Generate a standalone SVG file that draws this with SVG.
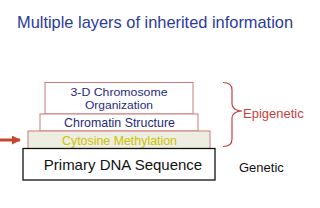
<svg xmlns="http://www.w3.org/2000/svg" width="320" height="208" viewBox="0 0 320 208">
<style>
.layer{stroke:#c97a7a;stroke-width:1}
.lt{font-family:"Liberation Sans",Arial,sans-serif;font-size:12.4px;fill:#1f2a80;text-anchor:middle}
.red{fill:#c8403c}
</style>
<defs>
<marker id="ah" viewBox="0 0 10 10" refX="9" refY="5" markerWidth="3" markerHeight="3" orient="auto" markerUnits="strokeWidth">
<path d="M0,0 L10,5 L0,10 z" fill="#c8472c"/>
</marker>
</defs>
<rect width="320" height="208" fill="#fff"/>
<text x="17" y="28" font-family="'Comic Sans MS','Liberation Sans',sans-serif" font-size="16.4" fill="#2b3a9c">Multiple layers of inherited information</text>
<g id="n-3d">
<rect class="layer" x="45" y="82.5" width="148" height="31.5" fill="#fff"/>
<text class="lt" style="font-size:11.6px"><tspan x="119" y="96.3" textLength="97" lengthAdjust="spacingAndGlyphs">3-D Chromosome</tspan><tspan x="119" y="109.2" textLength="68" lengthAdjust="spacingAndGlyphs">Organization</tspan></text>
</g>
<g id="n-chromatin">
<rect class="layer" x="40" y="114" width="158" height="17" fill="#fff"/>
<text class="lt" x="119.5" y="127">Chromatin Structure</text>
</g>
<g id="n-cytosine">
<rect class="layer" x="28" y="131" width="182" height="17.5" fill="#eeede1"/>
<text class="lt" x="119.5" y="144.5" style="fill:#cdc300">Cytosine Methylation</text>
</g>
<g id="n-dna">
<rect x="23" y="148.5" width="192" height="31.5" fill="#fff" stroke="#111" stroke-width="1.3"/>
<text x="123" y="169.5" font-family="'Liberation Sans',Arial,sans-serif" font-size="15" fill="#111" text-anchor="middle">Primary DNA Sequence</text>
</g>
<g id="n-epigenetic">
<path d="M223,82.5 C229,82.5 232,85 232,90 L232,104 C232,108 236,111 242,111 C236,111 232,114 232,118 L232,139 C232,144 229,146.5 223,146.5" fill="none" stroke="#c8403c" stroke-width="1.2"/>
<text class="red" x="243" y="118" font-family="'Liberation Sans',Arial,sans-serif" font-size="13">Epigenetic</text>
</g>
<g id="n-genetic">
<text x="239" y="171.5" font-family="'Liberation Sans',Arial,sans-serif" font-size="13" fill="#111">Genetic</text>
</g>
<g id="connectors">
<line x1="0" y1="140" x2="20" y2="140" stroke="#c8472c" stroke-width="3" marker-end="url(#ah)"/>
</g>
</svg>
